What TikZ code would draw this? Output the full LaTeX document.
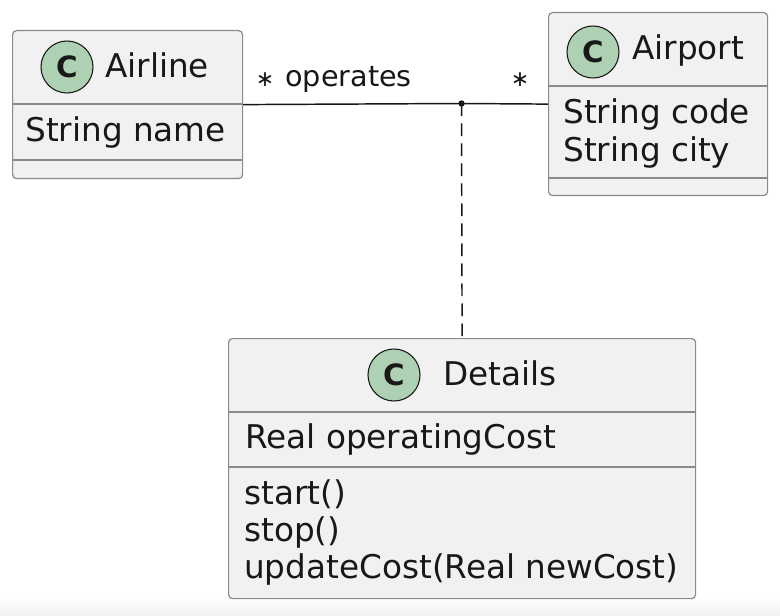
\documentclass[tikz,border=0pt]{standalone}
\usepackage{fontspec}
\setmainfont{DejaVu Sans}
\definecolor{boxfill}{HTML}{F1F1F1}
\definecolor{boxline}{HTML}{8A8A8A}
\definecolor{circfill}{HTML}{ADD1B2}
\definecolor{ink}{HTML}{181818}
\begin{document}
\begin{tikzpicture}[x=0.75pt,y=-0.75pt,
  classbox/.style={draw=boxline,fill=boxfill,line width=0.9pt,rounded corners=3pt,inner sep=0pt,anchor=north west},
  divider/.style={draw=boxline,line width=0.9pt},
  badge/.style={circle,draw=ink,line width=0.8pt,fill=circfill,minimum size=39pt,inner sep=0pt,font=\fontsize{22}{26}\selectfont\bfseries,text=ink},
  title/.style={anchor=base west,inner sep=0pt,font=\fontsize{24.5}{28}\selectfont,text=ink},
  member/.style={anchor=base west,inner sep=0pt,font=\fontsize{24.5}{28}\selectfont,text=ink},
  lbl/.style={anchor=base west,inner sep=0pt,font=\fontsize{21.5}{26}\selectfont,text=ink},
  mult/.style={anchor=center,inner sep=0pt,font=\fontsize{16.5}{20}\selectfont,text=ink},
  assoc/.style={draw=ink,line width=1.1pt},
  link/.style={draw=ink,line width=1.1pt,dash pattern=on 9.5pt off 5.5pt}]
\useasboundingbox (0,0) rectangle (780,616);
\fill[white] (0,0) rectangle (780,616);
\shade[top color=white,bottom color=black!6] (0,596) rectangle (780,616);

% Airline
\node[classbox,minimum width=172.5pt,minimum height=111pt] (airline) at (12,30) {};
\draw[divider] (12,104) -- (242,104);
\draw[divider] (12,160) -- (242,160);
\node[badge] (airlineC) at (67,67) {C};
\node[title] (airlineT) at (105,78) {Airline};
\node[member] (airlineA) at (25,142) {String name};

% Airport
\node[classbox,minimum width=164.25pt,minimum height=137.25pt] (airport) at (548,12) {};
\draw[divider] (548,86) -- (767,86);
\draw[divider] (548,178) -- (767,178);
\node[badge] (airportC) at (593,52) {C};
\node[title] (airportT) at (632,60) {Airport};
\node[member] (airportA1) at (563,124) {String code};
\node[member] (airportA2) at (563,162) {String city};

% Details
\node[classbox,minimum width=350.25pt,minimum height=195pt] (details) at (228,338) {};
\draw[divider] (228,412) -- (695,412);
\draw[divider] (228,467) -- (695,467);
\node[badge] (detailsC) at (394,375) {C};
\node[title] (detailsT) at (443,385) {Details};
\node[member] (detailsA) at (245,448) {Real operatingCost};
\node[member] (detailsM1) at (244,504) {start()};
\node[member] (detailsM2) at (244,541) {stop()};
\node[member] (detailsM3) at (244,578) {updateCost(Real newCost)};

% association
\coordinate (mid) at (461.5,103.5);
\draw[assoc] (airline.east) -- (mid) -- (airport.west);
\fill[ink] (mid) circle (2.4pt);
\draw[link] (mid) -- (details.north);
\node[mult] (multL) at (265,80) {∗};
\node[lbl] (opLabel) at (285,87) {operates};
\node[mult] (multR) at (520,80) {∗};
\end{tikzpicture}
\end{document}
